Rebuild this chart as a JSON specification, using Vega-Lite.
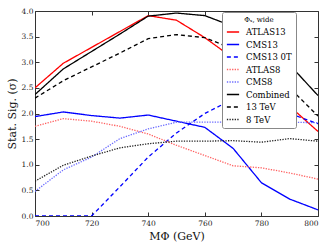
{
  "$schema": "https://vega.github.io/schema/vega-lite/v6.json",
  "autosize": "none",
  "width": 283,
  "height": 205,
  "padding": {"left": 35, "top": 11, "right": 14, "bottom": 33},
  "background": "white",
  "config": {
    "font": "DejaVu Serif",
    "view": {"stroke": "#333", "strokeWidth": 1},
    "axis": {"grid": false, "domain": false, "tickColor": "#333", "labelFont": "DejaVu Serif", "titleFont": "DejaVu Serif", "labelColor": "#222", "titleColor": "#111", "titleFontWeight": "normal"}
  },
  "data": {"values": [
    {"m":700,"s":"ATLAS13","v":2.50},{"m":710,"s":"ATLAS13","v":2.98},{"m":720,"s":"ATLAS13","v":3.29},{"m":730,"s":"ATLAS13","v":3.60},{"m":740,"s":"ATLAS13","v":3.91},{"m":750,"s":"ATLAS13","v":3.82},{"m":760,"s":"ATLAS13","v":3.48},{"m":770,"s":"ATLAS13","v":3.08},{"m":780,"s":"ATLAS13","v":2.62},{"m":790,"s":"ATLAS13","v":2.14},{"m":800,"s":"ATLAS13","v":1.65},
    {"m":700,"s":"CMS13","v":1.94},{"m":710,"s":"CMS13","v":2.03},{"m":720,"s":"CMS13","v":1.96},{"m":730,"s":"CMS13","v":1.91},{"m":740,"s":"CMS13","v":1.97},{"m":750,"s":"CMS13","v":1.85},{"m":760,"s":"CMS13","v":1.73},{"m":770,"s":"CMS13","v":1.32},{"m":780,"s":"CMS13","v":0.65},{"m":790,"s":"CMS13","v":0.33},{"m":800,"s":"CMS13","v":0.12},
    {"m":700,"s":"CMS13 0T","v":0},{"m":710,"s":"CMS13 0T","v":0},{"m":720,"s":"CMS13 0T","v":0},{"m":730,"s":"CMS13 0T","v":0.57},{"m":740,"s":"CMS13 0T","v":1.15},{"m":750,"s":"CMS13 0T","v":1.62},{"m":760,"s":"CMS13 0T","v":2.0},{"m":770,"s":"CMS13 0T","v":2.28},{"m":780,"s":"CMS13 0T","v":2.2},{"m":790,"s":"CMS13 0T","v":2.0},{"m":800,"s":"CMS13 0T","v":1.8},
    {"m":700,"s":"ATLAS8","v":1.75},{"m":710,"s":"ATLAS8","v":1.90},{"m":720,"s":"ATLAS8","v":1.85},{"m":730,"s":"ATLAS8","v":1.75},{"m":740,"s":"ATLAS8","v":1.60},{"m":750,"s":"ATLAS8","v":1.38},{"m":760,"s":"ATLAS8","v":1.18},{"m":770,"s":"ATLAS8","v":0.98},{"m":780,"s":"ATLAS8","v":0.94},{"m":790,"s":"ATLAS8","v":0.84},{"m":800,"s":"ATLAS8","v":0.72},
    {"m":700,"s":"CMS8","v":0.48},{"m":710,"s":"CMS8","v":0.90},{"m":720,"s":"CMS8","v":1.15},{"m":730,"s":"CMS8","v":1.51},{"m":740,"s":"CMS8","v":1.70},{"m":750,"s":"CMS8","v":1.83},{"m":760,"s":"CMS8","v":1.83},{"m":770,"s":"CMS8","v":1.83},{"m":780,"s":"CMS8","v":1.83},{"m":790,"s":"CMS8","v":1.83},{"m":800,"s":"CMS8","v":1.82},
    {"m":700,"s":"Combined","v":2.37},{"m":710,"s":"Combined","v":2.87},{"m":720,"s":"Combined","v":3.21},{"m":730,"s":"Combined","v":3.55},{"m":740,"s":"Combined","v":3.90},{"m":750,"s":"Combined","v":3.96},{"m":760,"s":"Combined","v":3.91},{"m":770,"s":"Combined","v":3.70},{"m":780,"s":"Combined","v":3.35},{"m":790,"s":"Combined","v":2.95},{"m":800,"s":"Combined","v":2.35},
    {"m":700,"s":"13 TeV","v":2.30},{"m":710,"s":"13 TeV","v":2.64},{"m":720,"s":"13 TeV","v":2.91},{"m":730,"s":"13 TeV","v":3.18},{"m":740,"s":"13 TeV","v":3.46},{"m":750,"s":"13 TeV","v":3.54},{"m":760,"s":"13 TeV","v":3.48},{"m":770,"s":"13 TeV","v":3.26},{"m":780,"s":"13 TeV","v":2.95},{"m":790,"s":"13 TeV","v":2.50},{"m":800,"s":"13 TeV","v":1.95},
    {"m":700,"s":"8 TeV","v":0.68},{"m":710,"s":"8 TeV","v":0.99},{"m":720,"s":"8 TeV","v":1.17},{"m":730,"s":"8 TeV","v":1.33},{"m":740,"s":"8 TeV","v":1.41},{"m":750,"s":"8 TeV","v":1.46},{"m":760,"s":"8 TeV","v":1.46},{"m":770,"s":"8 TeV","v":1.47},{"m":780,"s":"8 TeV","v":1.44},{"m":790,"s":"8 TeV","v":1.51},{"m":800,"s":"8 TeV","v":1.46}
  ]},
  "layer": [
    {
      "mark": {"type": "line", "opacity": 0},
      "encoding": {
        "x": {"field": "m", "type": "quantitative", "scale": {"domain": [700, 800], "nice": false, "zero": false},
              "axis": {"orient": "top", "values": [700,720,740,760,780,800], "tickSize": -4, "labels": false, "title": null}},
        "y": {"field": "v", "type": "quantitative", "scale": {"domain": [0, 4], "nice": false},
              "axis": {"orient": "right", "values": [0,0.5,1,1.5,2,2.5,3,3.5,4], "tickSize": -4, "labels": false, "title": null}}
      }
    },
    {
      "mark": {"type": "line", "strokeWidth": 1.3, "clip": true},
      "encoding": {
        "x": {"field": "m", "type": "quantitative", "scale": {"domain": [700, 800], "nice": false, "zero": false},
              "axis": {"orient": "bottom", "values": [700,720,740,760,780,800], "tickSize": -4, "labelPadding": 7, "labelFontSize": 7.5, "title": "MΦ (GeV)", "titleFontSize": 11, "titlePadding": 4}},
        "y": {"field": "v", "type": "quantitative", "scale": {"domain": [0, 4], "nice": false},
              "axis": {"orient": "left", "values": [0,0.5,1,1.5,2,2.5,3,3.5,4], "format": ".1f", "tickSize": -4, "labelPadding": 6, "labelFontSize": 7.5, "title": "Stat. Sig. (σ)", "titleFontSize": 11, "titlePadding": 4}},
        "color": {"field": "s", "type": "nominal",
                  "scale": {"domain": ["ATLAS13","CMS13","CMS13 0T","ATLAS8","CMS8","Combined","13 TeV","8 TeV"],
                            "range": ["#ff0000","#0000ff","#0000ff","#ff6060","#6a6aff","#000000","#000000","#222222"]},
                  "legend": {"title": "Φₛ, wide", "orient": "none", "legendX": 187, "legendY": 1, "symbolType": "stroke", "symbolSize": 150, "symbolStrokeWidth": 1.5,
                             "titleFontSize": 7, "titleFontWeight": "normal", "titleAnchor": "middle", "labelFontSize": 8.5, "labelColor": "#000",
                             "fillColor": "white", "strokeColor": "#888", "padding": 4, "rowPadding": 0.5, "cornerRadius": 2, "labelOffset": 6, "titlePadding": 2}},
        "strokeDash": {"field": "s", "type": "nominal",
                       "scale": {"domain": ["ATLAS13","CMS13","CMS13 0T","ATLAS8","CMS8","Combined","13 TeV","8 TeV"],
                                 "range": [[1,0],[1,0],[4,3],[1.3,1.3],[1.3,1.3],[1,0],[4,3],[1.3,1.3]]},
                       "legend": null},
        "order": {"field": "m", "type": "quantitative"}
      }
    }
  ],
  "resolve": {"axis": {"x": "independent", "y": "independent"}}
}
